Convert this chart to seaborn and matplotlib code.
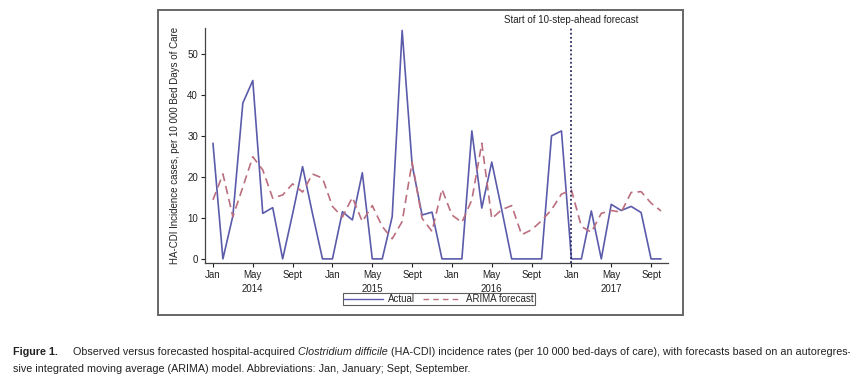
import numpy as np
import pandas as pd
import matplotlib
matplotlib.use("Agg")
import matplotlib.pyplot as plt
import matplotlib.transforms as mtransforms
import seaborn as sns
from matplotlib.patches import Rectangle
from matplotlib.lines import Line2D

# ---- data (monthly, Jan 2014 .. Oct 2017) ----
month_index = list(range(46))
actual = [28.2, 0, 10.5, 38.0, 43.5, 11.1, 12.5, 0, 11, 22.5, 11, 0,
          0, 11.5, 9.5, 21, 0, 0, 10.3, 55.7, 23, 10.7, 11.4, 0,
          0, 0, 31.2, 12.4, 23.6, 12, 0, 0, 0, 0, 30.0, 31.2,
          0, 0, 11.7, 0, 13.3, 11.8, 12.8, 11.3, 0, 0]
arima = [14.4, 20.7, 10.3, 17.5, 24.9, 21.7, 14.8, 15.6, 18.3, 16.3, 20.7, 19.7,
         12.8, 10.2, 15.0, 9.1, 13.0, 7.9, 4.9, 9.1, 23.6, 9.9, 6.7, 17.0,
         10.7, 8.9, 14.4, 28.2, 9.8, 12.0, 13.0, 5.9, 7.1, 9.3, 12.0, 15.8,
         16.8, 7.9, 6.5, 11.1, 11.8, 11.4, 16.2, 16.4, 13.6, 11.7]
tick_months = [0, 4, 8, 12, 16, 20, 24, 28, 32, 36, 40, 44]
tick_labels = ["Jan", "May", "Sept"] * 4
year_months = [4, 16, 28, 40]
year_labels = ["2014", "2015", "2016", "2017"]
forecast_start = 36
y_ticks = [0, 10, 20, 30, 40, 50]
series_names = ["Actual", "ARIMA forecast"]

df = pd.DataFrame({
    "month": month_index * 2,
    "value": actual + arima,
    "series": [series_names[0]] * len(actual) + [series_names[1]] * len(arima),
})

sns.set_style("ticks")
plt.rcParams["font.family"] = ["Liberation Sans", "DejaVu Sans"]

W, H = 850, 385
fig = plt.figure(figsize=(W / 100, H / 100), dpi=100)
fig.patch.set_facecolor("white")

def fx(px):
    return px / W

def fy(py):
    return 1 - py / H

ax = fig.add_axes([fx(205), fy(263), fx(668) - fx(205), fy(28) - fy(263)])

c_act = "#5b5bab"
c_ari = "#bb6f7e"
sns.lineplot(data=df, x="month", y="value", hue="series", style="series",
             palette={series_names[0]: c_act, series_names[1]: c_ari},
             dashes={series_names[0]: "", series_names[1]: (5, 3)},
             linewidth=1.2, legend=False, ax=ax)

ax.axvline(forecast_start, color="#2b2b66", linestyle=(0, (1, 1.3)), linewidth=1.3, zorder=5)
blend = mtransforms.blended_transform_factory(ax.transData, fig.transFigure)
ax.text(forecast_start, fy(20), "Start of 10-step-ahead forecast",
        transform=blend, ha="center", va="center",
        fontsize=7.0, color="#222222", fontweight="medium")

ax.set_xlim(-0.8, 45.7)
ax.set_ylim(-1, 56.3)
ax.set_xticks(tick_months)
ax.set_xticklabels(tick_labels)
ax.set_yticks(y_ticks)
for s in ["top", "right"]:
    ax.spines[s].set_visible(False)
for s in ["left", "bottom"]:
    ax.spines[s].set_color("#444444")
    ax.spines[s].set_linewidth(0.9)
ax.tick_params(axis="both", labelsize=7, colors="#222222", length=3, width=0.8, pad=2)
ax.set_xlabel("")
ax.set_ylabel("HA-CDI Incidence cases, per 10 000 Bed Days of Care", fontsize=7,
              color="#222222", labelpad=5)

for m, lab in zip(year_months, year_labels):
    ax.text(m, fy(289), lab, transform=blend, ha="center", va="center",
            fontsize=7, color="#222222")

handles = [Line2D([], [], color=c_act, lw=1.0),
           Line2D([], [], color=c_ari, lw=1.0, dashes=(4, 3))]
leg = fig.legend(handles, series_names, loc="center", bbox_to_anchor=(fx(439), fy(299)),
                 ncol=2, frameon=True, fancybox=False, fontsize=7, handlelength=4.0,
                 handletextpad=0.5, columnspacing=0.8, borderpad=0.15, borderaxespad=0)
leg.get_frame().set_edgecolor("#333333")
leg.get_frame().set_linewidth(0.8)

# outer frame
fig.patches.append(Rectangle((fx(158), fy(315)), fx(683) - fx(158), fy(10) - fy(315),
                             transform=fig.transFigure, fill=False,
                             edgecolor="#666666", linewidth=1.4))

# caption
cap_font = ["Liberation Sans", "DejaVu Sans"]
fig.canvas.draw()
renderer = fig.canvas.get_renderer()

def measure(parts, size):
    total = 0
    for txt, kw in parts:
        t = fig.text(0, 0, txt, fontsize=size, family=cap_font, **kw)
        total += t.get_window_extent(renderer).width
        t.remove()
    return total

def place(parts, x0, ybase, size):
    x = x0
    for txt, kw in parts:
        t = fig.text(fx(x), fy(ybase), txt, fontsize=size, family=cap_font,
                     va="baseline", ha="left", color="#222222", **kw)
        x += t.get_window_extent(renderer).width
    return x

line1 = [("Observed versus forecasted hospital-acquired ", {}),
         ("Clostridium difficile", {"style": "italic"}),
         (" (HA-CDI) incidence rates (per 10 000 bed-days of care), with forecasts based on an autoregres-", {})]
line2 = [("sive integrated moving average (ARIMA) model. Abbreviations: Jan, January; Sept, September.", {})]
base = 8.6
w = measure(line1, base)
size = base * (838 - 73) / w
place([("Figure 1.", {"fontweight": "bold"})], 13, 355, size)
place(line1, 73, 355, size)
place(line2, 13, 372, size)

fig.savefig("out.png", dpi=100, facecolor="white")
